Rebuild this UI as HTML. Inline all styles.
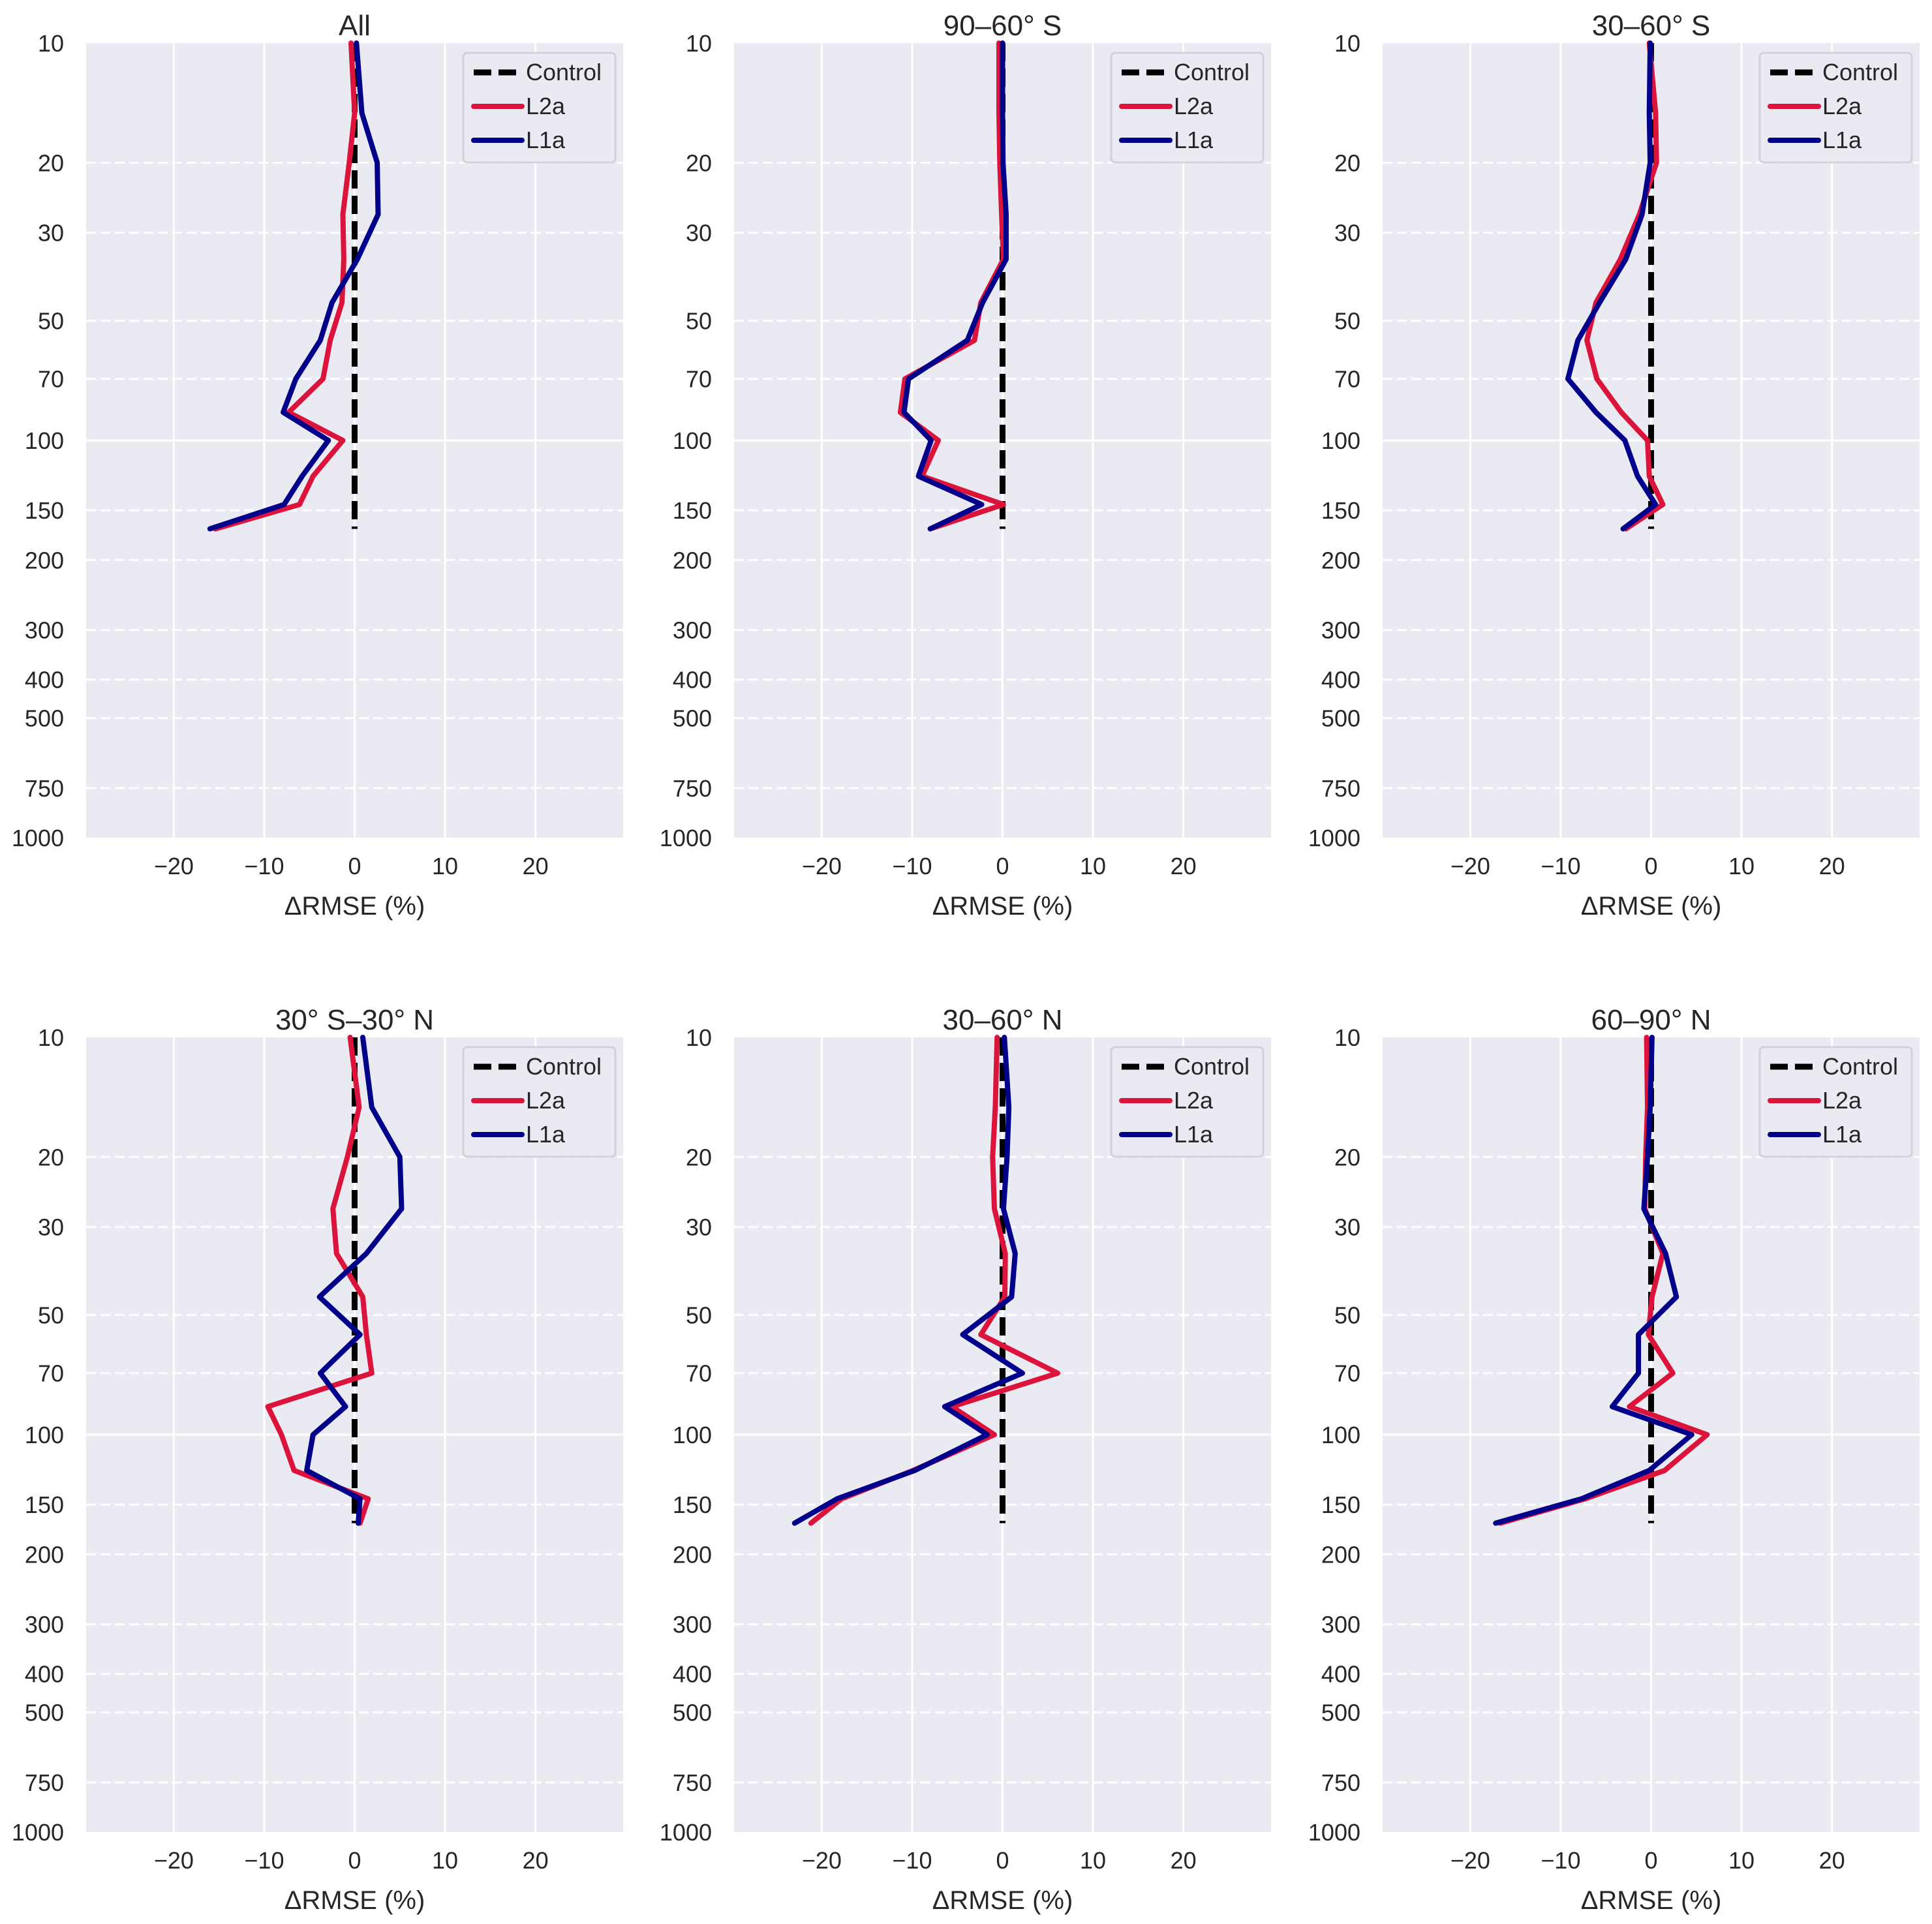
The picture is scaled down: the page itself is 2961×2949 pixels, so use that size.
<!DOCTYPE html>
<html><head><meta charset="utf-8">
<style>
html,body{margin:0;padding:0;background:#fff;}
svg{display:block;font-family:"Liberation Sans",Arial,sans-serif;}
</style></head>
<body>
<svg id="fig" width="2961" height="2949" viewBox="0 0 2961 2949" xmlns="http://www.w3.org/2000/svg"></svg>
<script>
const levels = [10,15,20,27,35,45,56,70,85,100,123,145,167];
const panelTitles = ["All","90\u201360\u00b0 S","30\u201360\u00b0 S","30\u00b0 S\u201330\u00b0 N","30\u201360\u00b0 N","60\u201390\u00b0 N"];
const l2aAll   = [-0.4,0,-0.6,-1.3,-1.2,-1.4,-2.7,-3.5,-7.3,-1.3,-4.6,-6.1,-15.4];
const l1aAll   = [0.2,0.8,2.5,2.6,0.3,-2.5,-3.8,-6.5,-7.9,-2.9,-5.8,-7.8,-16];
const l2a9060S = [-0.4,-0.4,-0.3,-0.1,0.1,-2.4,-3.1,-10.8,-11.3,-7.1,-8.9,0.1,-8.0];
const l1a9060S = [0,0,0.05,0.4,0.4,-2.2,-3.9,-10.4,-10.9,-7.9,-9.3,-2.3,-8.0];
const l2a3060S = [-0.2,0.5,0.6,-1.3,-3.4,-6.1,-7.1,-6.0,-3.3,-0.4,-0.2,1.3,-2.8];
const l1a3060S = [-0.1,-0.2,-0.1,-1.0,-2.8,-5.7,-8.1,-9.2,-6.1,-2.9,-1.5,0.5,-3.1];
const l2aTrop  = [-0.5,0.5,-0.8,-2.4,-2.0,0.9,1.3,1.9,-9.6,-8.1,-6.7,1.5,0.6];
const l1aTrop  = [0.9,1.9,5.0,5.2,1.3,-3.9,0.6,-3.8,-1.0,-4.6,-5.3,0.6,0.4];
const l2a3060N = [-0.6,-0.8,-1.1,-0.9,0.3,0.25,-2.4,6.1,-5.6,-0.9,-9.9,-17.8,-21.2];
const l1a3060N = [0.2,0.7,0.5,0.1,1.4,1.0,-4.4,2.2,-6.4,-1.7,-9.7,-18.3,-23];
const l2a6090N = [-0.5,-0.4,-0.6,-0.7,1.3,0.1,-0.3,2.4,-2.4,6.2,1.5,-7.3,-16.7];
const l1a6090N = [0.1,-0.1,-0.4,-0.8,1.6,2.8,-1.4,-1.4,-4.3,4.5,-0.2,-7.7,-17.2];
const l2aSeries = [l2aAll,l2a9060S,l2a3060S,l2aTrop,l2a3060N,l2a6090N];
const l1aSeries = [l1aAll,l1a9060S,l1a3060S,l1aTrop,l1a3060N,l1a6090N];
const xTicks = [-20,-10,0,10,20];
const yTicks = [10,20,30,50,70,100,150,200,300,400,500,750,1000];

const NS="http://www.w3.org/2000/svg";
const svg=document.getElementById('fig');
function mk(tag,attrs,parent){const e=document.createElementNS(NS,tag);for(const k in attrs)e.setAttribute(k,attrs[k]);(parent||svg).appendChild(e);return e;}
const lefts=[132,1125,2119], tops=[66,1590], W=823, H=1218, XMAX=29.7;

for(let p=0;p<6;p++){
  const L=lefts[p%3], T=tops[Math.floor(p/3)];
  const xs=v=>L+(v+XMAX)/(2*XMAX)*W;
  const ys=pr=>T+(Math.log10(pr)-1)/2*H;
  const g=mk('g',{});
  
  
  const bg=mk('rect',{x:L,y:T,width:W,height:H,fill:'#eaeaf2'},g);
  
  
  for(const t of xTicks){
    const gl=mk('line',{x1:xs(t),x2:xs(t),y1:T,y2:T+H,stroke:'#fff','stroke-width':3},g);
    
    
    const tl=mk('text',{x:xs(t),y:T+H+56,'font-size':36,'text-anchor':'middle',fill:'#262626'},g);
    tl.textContent=t<0?'\u2212'+(-t):String(t);
    
    
  }
  for(const t of yTicks){
    const y=ys(t);
    if(t!==10&&t!==1000){
      const gl=mk('line',{x1:L,x2:L+W,y1:y,y2:y,stroke:'#fff','stroke-width':3},g);
      if(t!==100) gl.setAttribute('stroke-dasharray','15,7');
      
      
    }
    const tl=mk('text',{x:L-34,y:y+13,'font-size':36,'text-anchor':'end',fill:'#262626'},g);
    tl.textContent=String(t);
    
    
  }
  const ctl=mk('line',{x1:xs(0),x2:xs(0),y1:ys(levels[0]),y2:ys(levels[levels.length-1]),stroke:'#000','stroke-width':9,'stroke-dasharray':'28,11'},g);
  
  
  const mkPath=(arr,color,name)=>{
    const d=arr.map((v,i)=>(i?'L':'M')+xs(v).toFixed(1)+','+ys(levels[i]).toFixed(1)).join(' ');
    const pth=mk('path',{d:d,fill:'none',stroke:color,'stroke-width':8,'stroke-linejoin':'round','stroke-linecap':'round'},g);
    
    
  };
  mkPath(l2aSeries[p],'#dc143c','l2a-line');
  mkPath(l1aSeries[p],'#00008b','l1a-line');
  const ti=mk('text',{x:L+W/2,y:T-12,'font-size':44,'text-anchor':'middle',fill:'#262626'},g);
  ti.textContent=panelTitles[p];
  
  
  const xl=mk('text',{x:L+W/2,y:T+H+118,'font-size':40,'text-anchor':'middle',fill:'#262626'},g);
  xl.textContent='\u0394RMSE (%)';
  
  
  const lx=L+W-245, ly=T+15;
  const lg=mk('g',{},g);
  
  
  mk('rect',{x:lx,y:ly,width:233,height:168,rx:6,fill:'#eaeaf2',stroke:'#d0d0d8','stroke-width':3,opacity:0.95},lg);
  const items=[['Control','#000',true],['L2a','#dc143c',false],['L1a','#00008b',false]];
  items.forEach((it,i)=>{
    const yy=ly+30+i*52;
    const ln=mk('line',{x1:lx+16,x2:lx+90,y1:yy,y2:yy,stroke:it[1],'stroke-width':it[2]?9:8,'stroke-linecap':it[2]?'butt':'round'},lg);
    if(it[2]) ln.setAttribute('stroke-dasharray','27,11');
    const tx=mk('text',{x:lx+96,y:yy+12,'font-size':36,fill:'#262626'},lg);
    tx.textContent=it[0];
    
    
  });
}
</script>
</body></html>
